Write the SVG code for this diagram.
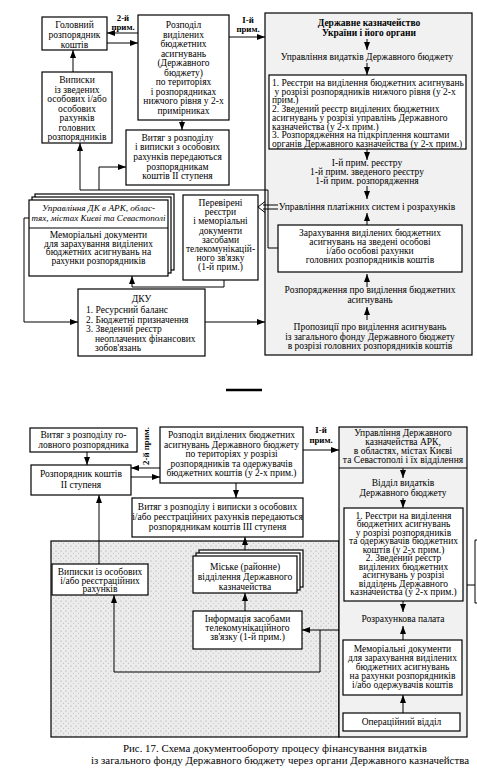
<svg xmlns="http://www.w3.org/2000/svg" width="477" height="776" viewBox="0 0 477 776">
<style>
.b{fill:#fff;stroke:#000;stroke-width:1.2}
.g{fill:#f1f1f1;stroke:#000;stroke-width:1.2}
.l{fill:none;stroke:#000;stroke-width:1}
.t{font-family:"Liberation Serif","Times New Roman",serif;font-size:9.5px;fill:#000}
.c{text-anchor:middle}
.bd{font-weight:bold;font-size:8.8px}
.it{font-style:italic;font-size:9.2px}
.cap{font-family:"Liberation Serif","Times New Roman",serif;font-size:11px;fill:#000;text-anchor:middle}
</style>
<defs>
<marker id="a" viewBox="0 0 8 6" refX="8" refY="3" markerWidth="8" markerHeight="6" markerUnits="userSpaceOnUse" orient="auto">
<path d="M0,0 L8,3 L0,6 Z" fill="#000"/>
</marker>
<pattern id="st" width="5" height="5" patternUnits="userSpaceOnUse">
<rect width="5" height="5" fill="#ececec"/>
<circle cx="1" cy="1" r="0.6" fill="#9a9a9a"/>
<circle cx="3.5" cy="3.2" r="0.5" fill="#b5b5b5"/>
</pattern>
</defs>
<rect width="477" height="776" fill="#fff"/>

<!-- ===== TOP DIAGRAM ===== -->
<g id="dku-big">
<rect class="g" x="265" y="13" width="207" height="342"/>
<text class="t c" font-weight="bold" x="369"><tspan x="369" y="26">Державне казначейство</tspan><tspan x="369" y="36">України і його органи</tspan></text>
<text class="t c" x="367" y="60">Управління видатків Державного бюджету</text>
<text class="t c" x="367"><tspan x="367" y="166">І-й прим. реєстру</tspan><tspan x="367" y="175">1-й прим. зведеного реєстру</tspan><tspan x="367" y="184">1-й прим. розпорядження</tspan></text>
<text class="t c" x="367" y="210">Управління платіжних систем і розрахунків</text>
<text class="t c" x="370"><tspan x="370" y="293">Розпорядження про виділення бюджетних</tspan><tspan x="370" y="303">асигнувань</tspan></text>
<text class="t c" x="370"><tspan x="370" y="330">Пропозиції про виділення асигнувань</tspan><tspan x="370" y="339.5">із загального фонду Державного бюджету</tspan><tspan x="370" y="349">в розрізі головних розпорядників коштів</tspan></text>
</g>
<g id="registers-top">
<rect class="b" x="269" y="75" width="197" height="74"/>
<text class="t" x="272"><tspan x="272" y="86">1. Реєстри на виділення бюджетних асигнувань</tspan><tspan x="272" y="94.7"> у розрізі розпорядників нижчого рівня (у 2-х</tspan><tspan x="272" y="103.4">прим.)</tspan><tspan x="272" y="112.1">2. Зведений реєстр виділених бюджетних</tspan><tspan x="272" y="120.8">асигнувань у розрізі управлінь Державного</tspan><tspan x="272" y="129.5">казначейства (у 2-х прим.)</tspan><tspan x="272" y="138.2">3. Розпорядження на підкріплення коштами</tspan><tspan x="272" y="146.9">органів Державного казначейства (у 2-х прим.)</tspan></text>
</g>
<g id="zarakhuvannia">
<rect class="b" x="278" y="225" width="184" height="47"/>
<text class="t c" x="370"><tspan x="370" y="236">Зарахування виділених бюджетних</tspan><tspan x="370" y="245">асигнувань на зведені особові</tspan><tspan x="370" y="254">і/або особові рахунки</tspan><tspan x="370" y="263">головних розпорядників коштів</tspan></text>
</g>
<g id="holovnyi">
<rect class="b" x="42" y="17" width="65" height="33"/>
<text class="t c" x="74.5"><tspan x="74.5" y="28">Головний</tspan><tspan x="74.5" y="38">розпорядник</tspan><tspan x="74.5" y="47.5">коштів</tspan></text>
</g>
<g id="rozpodil-top">
<rect class="b" x="138" y="15" width="91" height="105"/>
<text class="t c" x="183.5"><tspan x="183.5" y="28">Розподіл</tspan><tspan x="183.5" y="37.5">виділених</tspan><tspan x="183.5" y="47">бюджетних</tspan><tspan x="183.5" y="56.5">асигнувань</tspan><tspan x="183.5" y="66">(Державного</tspan><tspan x="183.5" y="75.5">бюджету)</tspan><tspan x="183.5" y="85">по територіях</tspan><tspan x="183.5" y="94.5">і розпорядниках</tspan><tspan x="183.5" y="104">нижчого рівня у 2-х</tspan><tspan x="183.5" y="113.5">примірниках</tspan></text>
</g>
<g id="vypysky-top">
<rect class="b" x="42" y="72" width="70" height="71"/>
<text class="t c" x="77"><tspan x="77" y="83">Виписки</tspan><tspan x="77" y="93">із зведених</tspan><tspan x="77" y="102">особових і/або</tspan><tspan x="77" y="111.5">особових</tspan><tspan x="77" y="121">рахунків</tspan><tspan x="77" y="130.5">головних</tspan><tspan x="77" y="140">розпорядників</tspan></text>
</g>
<g id="vytiah-2">
<rect class="b" x="126" y="130" width="103" height="55"/>
<text class="t c" x="177.5"><tspan x="177.5" y="140.5">Витяг з розподілу</tspan><tspan x="177.5" y="150">і виписки з особових</tspan><tspan x="177.5" y="160">рахунків передаються</tspan><tspan x="177.5" y="169.5">розпорядникам</tspan><tspan x="177.5" y="179">коштів II ступеня</tspan></text>
</g>
<g id="upravlinnia-dk">
<rect class="b" x="35" y="194" width="139" height="76"/>
<rect class="b" x="32" y="197" width="139" height="76"/>
<rect class="b" x="29" y="200" width="139" height="76"/>
<line class="l" x1="29" y1="228" x2="168" y2="228"/>
<text class="t c it" x="98.5"><tspan x="98.5" y="211">Управління ДК в АРК, облас-</tspan><tspan x="98.5" y="221" textLength="134" lengthAdjust="spacingAndGlyphs">тях, містах Києві та Севастополі</tspan></text>
<text class="t c" x="98.5"><tspan x="98.5" y="238">Меморіальні документи</tspan><tspan x="98.5" y="246.5">для зарахування виділених</tspan><tspan x="98.5" y="255">бюджетних асигнувань на</tspan><tspan x="98.5" y="263.5">рахунки розпорядників</tspan></text>
</g>
<g id="perevireni">
<rect class="b" x="183" y="195" width="75" height="85"/>
<text class="t c" x="220.5"><tspan x="220.5" y="206">Перевірені</tspan><tspan x="220.5" y="215.2">реєстри</tspan><tspan x="220.5" y="224.4">і меморіальні</tspan><tspan x="220.5" y="233.6">документи</tspan><tspan x="220.5" y="242.8">засобами</tspan><tspan x="220.5" y="252">телекомунікацій-</tspan><tspan x="220.5" y="261.2">ного зв'язку</tspan><tspan x="220.5" y="270.4">(1-й прим.)</tspan></text>
</g>
<g id="dku-small">
<rect class="b" x="78" y="289" width="127" height="67"/>
<text class="t c" x="141.5" y="302">ДКУ</text>
<text class="t" x="86"><tspan x="86" y="313">1. Ресурсний баланс</tspan><tspan x="86" y="322.5">2. Бюджетні призначення</tspan><tspan x="86" y="332">3. Зведений реєстр</tspan><tspan x="95" y="341.5">неоплачених фінансових</tspan><tspan x="95" y="351">зобов'язань</tspan></text>
</g>
<g id="labels-top">
<text class="t c bd" x="123"><tspan x="123" y="21">2-й</tspan><tspan x="123" y="30">прим.</tspan></text>
<text class="t c bd" x="248"><tspan x="248" y="23">І-й</tspan><tspan x="248" y="32">прим.</tspan></text>
</g>
<g id="connectors-top">
<line class="l" x1="138" y1="33" x2="107" y2="33" marker-end="url(#a)"/>
<line class="l" x1="107" y1="43" x2="138" y2="43" marker-end="url(#a)"/>
<line class="l" x1="229" y1="37" x2="265" y2="37" marker-end="url(#a)"/>
<line class="l" x1="73" y1="72" x2="73" y2="50" marker-end="url(#a)"/>
<line class="l" x1="182" y1="120" x2="182" y2="130" marker-end="url(#a)"/>
<line class="l" x1="367" y1="39" x2="367" y2="50" marker-end="url(#a)"/>
<line class="l" x1="367" y1="63" x2="367" y2="75" marker-end="url(#a)"/>
<line class="l" x1="367" y1="149" x2="367" y2="160" marker-end="url(#a)"/>
<line class="l" x1="367" y1="186" x2="367" y2="199" marker-end="url(#a)"/>
<line class="l" x1="367" y1="225" x2="367" y2="213" marker-end="url(#a)"/>
<line class="l" x1="367" y1="287" x2="367" y2="274" marker-end="url(#a)"/>
<line class="l" x1="367" y1="320" x2="367" y2="307" marker-end="url(#a)"/>
<path class="l" d="M278,248 H268 V190 H80 V143" marker-end="url(#a)"/>
<path class="l" d="M99,190 V167 H126" marker-end="url(#a)"/>
<path class="l" d="M29,218 H24 V322 H78" marker-end="url(#a)"/>
<path class="l" d="M224,280 V287 H132 V276" marker-end="url(#a)"/>
<line class="l" x1="205" y1="322" x2="265" y2="322" marker-end="url(#a)"/>
<path class="l" d="M278,205 H263 M278,209 H263 M265,201.5 L258,207 L265,212.5"/>
</g>

<!-- separator -->
<line x1="226" y1="390" x2="262" y2="390" stroke="#000" stroke-width="2.5"/>

<!-- ===== BOTTOM DIAGRAM ===== -->
<g id="stipple-area">
<rect x="51" y="541" width="288" height="196" fill="url(#st)" stroke="#000" stroke-width="1.2"/>
</g>
<g id="dk-regional">
<rect class="g" x="339" y="427" width="128" height="310"/>
<text class="t c" x="403"><tspan x="403" y="436">Управління Державного</tspan><tspan x="403" y="445">казначейства АРК,</tspan><tspan x="403" y="454">в областях, містах Києві</tspan><tspan x="403" y="463">та Севастополі і їх відділення</tspan></text>
<line class="l" x1="339" y1="468" x2="467" y2="468"/>
<text class="t c" x="403"><tspan x="403" y="486">Відділ видатків</tspan><tspan x="403" y="496">Державного бюджету</tspan></text>
<text class="t c" x="403" y="622">Розрахункова палата</text>
</g>
<g id="registers-bottom">
<rect class="b" x="344" y="508" width="119" height="93"/>
<text class="t c" x="403.5"><tspan x="403.5" y="518.5">1. Реєстри на виділення</tspan><tspan x="403.5" y="527">бюджетних асигнувань</tspan><tspan x="403.5" y="535.5">у розрізі розпорядників</tspan><tspan x="403.5" y="544">та одержувачів бюджетних</tspan><tspan x="403.5" y="552.5">коштів (у 2-х прим.)</tspan><tspan x="403.5" y="561">2. Зведений реєстр</tspan><tspan x="403.5" y="569.5">виділених бюджетних</tspan><tspan x="403.5" y="578">асигнувань у розрізі</tspan><tspan x="403.5" y="586.5">відділень Державного</tspan><tspan x="403.5" y="595">казначейства (у 2-х прим.)</tspan></text>
</g>
<g id="memorialni-bottom">
<rect class="b" x="343" y="640" width="119" height="55"/>
<text class="t c" x="402.5"><tspan x="402.5" y="651.5">Меморіальні документи</tspan><tspan x="402.5" y="660.5">для зарахування виділених</tspan><tspan x="402.5" y="669.5">бюджетних асигнувань</tspan><tspan x="402.5" y="678.5">на рахунки розпорядників</tspan><tspan x="402.5" y="687.5">і/або одержувачів коштів</tspan></text>
</g>
<g id="operatsiinyi">
<rect class="b" x="343" y="713" width="117" height="18"/>
<text class="t c" x="401.5" y="725">Операційний відділ</text>
</g>
<g id="vytiah-holovnoho">
<rect class="b" x="30" y="428" width="107" height="24"/>
<text class="t c" x="83.5"><tspan x="83.5" y="438">Витяг з розподілу го-</tspan><tspan x="83.5" y="448">ловного розпорядника</tspan></text>
</g>
<g id="rozporiadnyk-2">
<rect class="b" x="31" y="465" width="100" height="30"/>
<text class="t c" x="81"><tspan x="81" y="477">Розпорядник коштів</tspan><tspan x="81" y="487.5">II ступеня</tspan></text>
</g>
<g id="rozpodil-bottom">
<rect class="b" x="160" y="427" width="143" height="56"/>
<text class="t c" x="231.5"><tspan x="231.5" y="438">Розподіл виділених бюджетних</tspan><tspan x="231.5" y="447.5">асигнувань Державного бюджету</tspan><tspan x="231.5" y="457">по територіях у розрізі</tspan><tspan x="231.5" y="466.5">розпорядників та одержувачів</tspan><tspan x="231.5" y="476">бюджетних коштів (у 2-х прим.)</tspan></text>
</g>
<g id="vytiah-3">
<rect class="b" x="132" y="498" width="171" height="39"/>
<text class="t c" x="217.5"><tspan x="217.5" y="509.5">Витяг з розподілу і виписки з особових</tspan><tspan x="217.5" y="519.5">і/або реєстраційних рахунків передаються</tspan><tspan x="217.5" y="529.5">розпорядникам коштів III ступеня</tspan></text>
</g>
<g id="vypysky-bottom">
<rect class="b" x="52" y="564" width="96" height="31"/>
<text class="t c" x="100"><tspan x="100" y="575">Виписки із особових</tspan><tspan x="100" y="583.5">і/або реєстраційних</tspan><tspan x="100" y="592">рахунків</tspan></text>
</g>
<g id="miske">
<rect class="b" x="199" y="550" width="104" height="37"/>
<rect class="b" x="196" y="553" width="104" height="37"/>
<rect class="b" x="193" y="556" width="104" height="37"/>
<text class="t c" x="245"><tspan x="245" y="570">Міське (районне)</tspan><tspan x="245" y="580">відділення Державного</tspan><tspan x="245" y="590">казначейства</tspan></text>
</g>
<g id="informatsiia">
<rect class="b" x="193" y="611" width="109" height="38"/>
<text class="t c" x="247.5"><tspan x="247.5" y="622">Інформація засобами</tspan><tspan x="247.5" y="631">телекомунікаційного</tspan><tspan x="247.5" y="640">зв'язку (1-й прим.)</tspan></text>
</g>
<g id="labels-bottom">
<text class="t c bd" transform="translate(149,446) rotate(-90)" x="0" y="0">2-й прим.</text>
<text class="t c bd" x="321"><tspan x="321" y="433">І-й</tspan><tspan x="321" y="443">прим.</tspan></text>
</g>
<g id="connectors-bottom">
<line class="l" x1="87" y1="452" x2="87" y2="465" marker-end="url(#a)"/>
<line class="l" x1="160" y1="468" x2="131" y2="468" marker-end="url(#a)"/>
<line class="l" x1="131" y1="477" x2="160" y2="477" marker-end="url(#a)"/>
<line class="l" x1="303" y1="450" x2="339" y2="450" marker-end="url(#a)"/>
<line class="l" x1="236" y1="483" x2="236" y2="498" marker-end="url(#a)"/>
<line class="l" x1="403" y1="468" x2="403" y2="478" marker-end="url(#a)"/>
<line class="l" x1="403" y1="498" x2="403" y2="508" marker-end="url(#a)"/>
<line class="l" x1="403" y1="601" x2="403" y2="612" marker-end="url(#a)"/>
<line class="l" x1="403" y1="640" x2="403" y2="626" marker-end="url(#a)"/>
<line class="l" x1="403" y1="713" x2="403" y2="695" marker-end="url(#a)"/>
<line class="l" x1="99" y1="564" x2="99" y2="495" marker-end="url(#a)"/>
<line class="l" x1="245" y1="550" x2="245" y2="537" marker-end="url(#a)"/>
<line class="l" x1="245" y1="611" x2="245" y2="593" marker-end="url(#a)"/>
<line class="l" x1="339" y1="630" x2="302" y2="630" marker-end="url(#a)"/>
<path class="l" d="M320,630 V672 H114 V595" marker-end="url(#a)"/>
<path class="l" d="M467,585 H475 M479,540 H475 V603 H479"/>
</g>

<text class="cap"><tspan x="275" y="752" textLength="304" lengthAdjust="spacingAndGlyphs">Рис. 17. Схема документообороту процесу фінансування видатків</tspan><tspan x="280" y="764" textLength="378" lengthAdjust="spacingAndGlyphs">із загального фонду Державного бюджету через органи Державного казначейства</tspan></text>
</svg>
